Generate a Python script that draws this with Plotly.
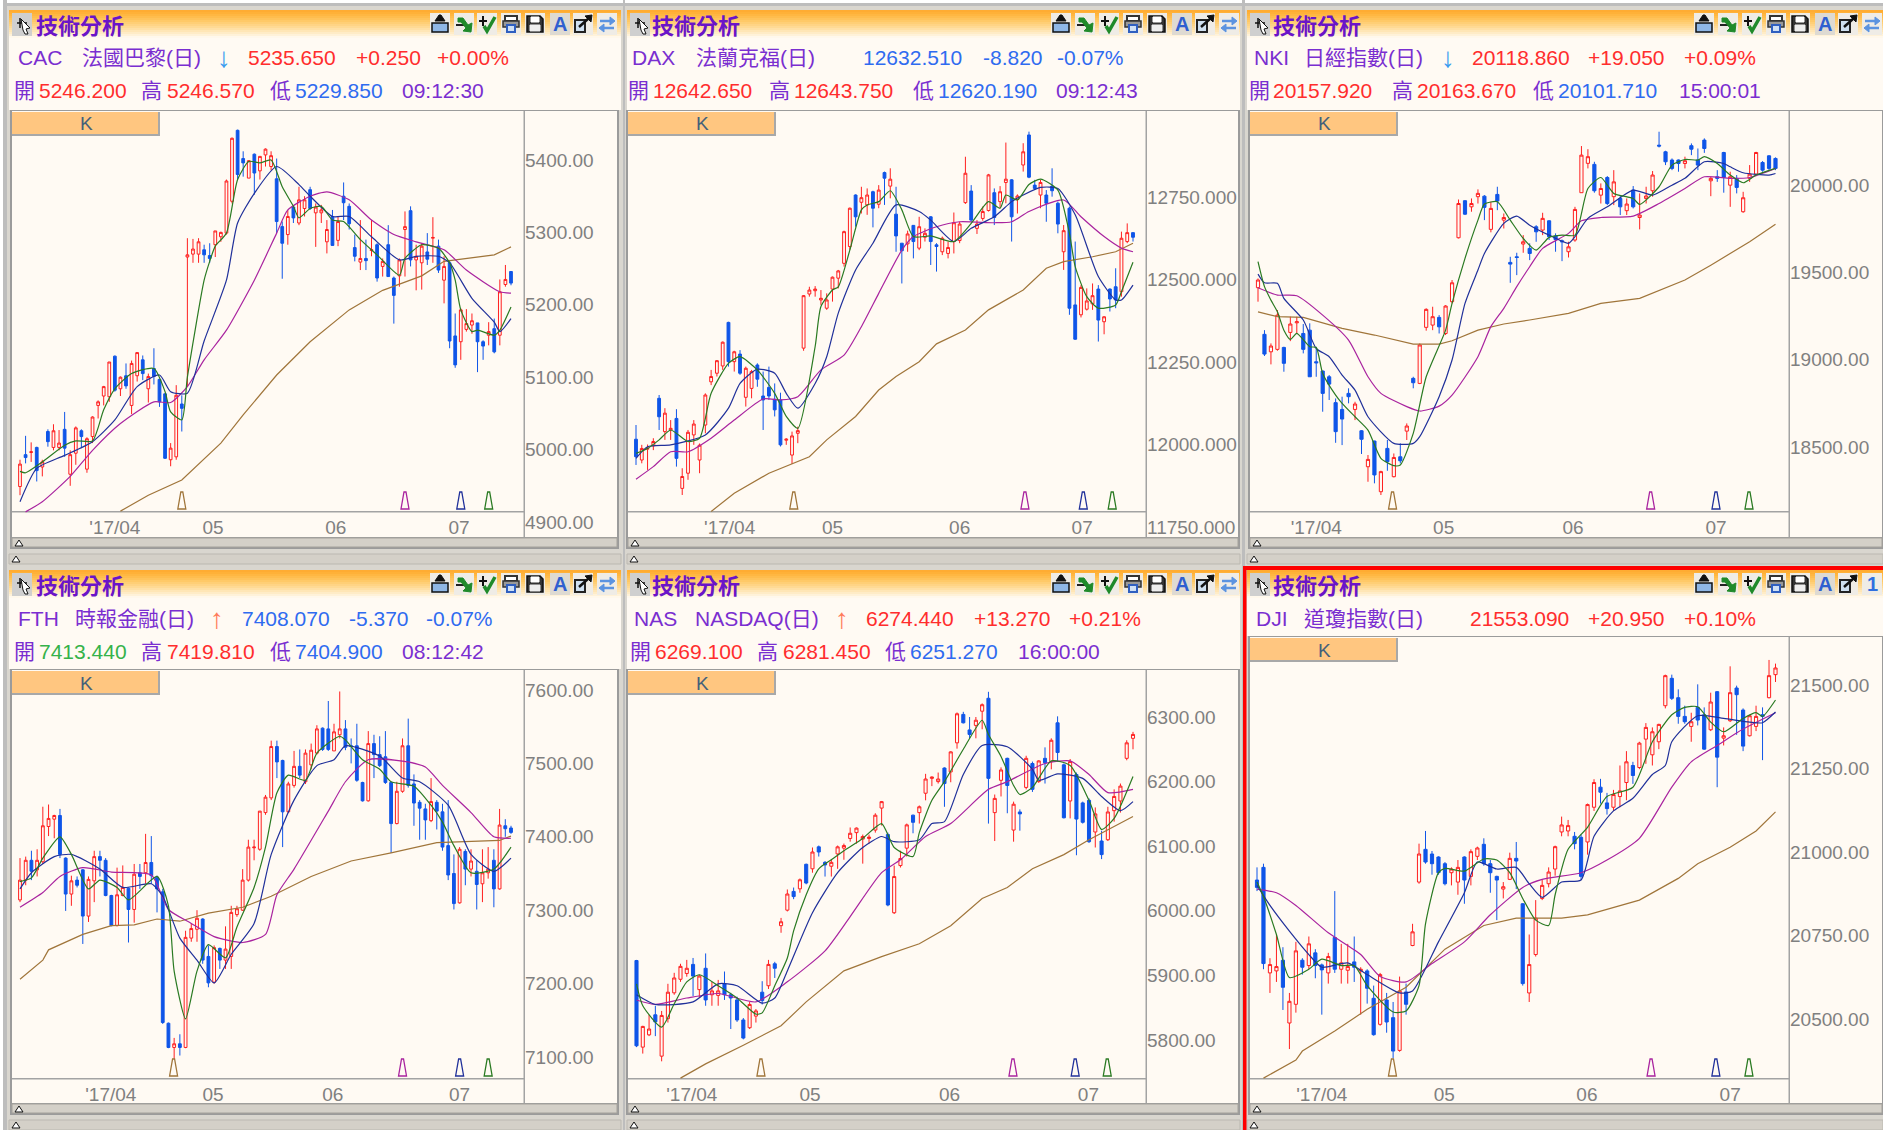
import plotly.graph_objects as go

W, H = 1883, 1130

# ---------- text ----------
title_text = "技術分析"
month_labels = ["'17/04", "05", "06", "07"]

# ---------- CAC ----------
cac_open = [4949,4993,4996,5003,4976,5025,5003,5003,5028,4966,4995,5026,4973,5018,5061,5074,5073,5129,5084,5102,5061,5102,5124,5084,5112,5097,5077,4986,4990,5063,5266,5270,5270,5276,5268,5283,5294,5299,5343,5441,5402,5375,5408,5385,5407,5391,5374,5308,5297,5335,5313,5333,5359,5327,5327,5287,5322,5289,5350,5336,5279,5259,5264,5275,5283,5253,5283,5237,5240,5304,5330,5262,5258,5273,5292,5281,5234,5258,5157,5149,5166,5172,5175,5149,5158,5167,5158,5228,5246]
cac_close = [4980,4989,4997,4971,4983,5011,5026,5009,5002,4993,5030,5018,5015,5045,5066,5087,5121,5082,5100,5088,5119,5134,5105,5101,5101,5066,4988,5002,5075,5057,5269,5277,5287,5269,5264,5302,5300,5371,5430,5380,5396,5399,5382,5405,5415,5406,5315,5285,5322,5320,5345,5345,5333,5335,5331,5304,5282,5315,5341,5312,5267,5264,5261,5276,5237,5260,5239,5213,5262,5308,5262,5267,5281,5263,5293,5248,5253,5150,5117,5193,5174,5178,5149,5143,5163,5135,5218,5235,5230]
cac_high = [4986,5019,5010,5004,4986,5028,5035,5027,5052,4999,5032,5028,5017,5046,5068,5088,5121,5130,5101,5119,5123,5134,5130,5105,5140,5098,5078,5009,5089,5075,5292,5291,5292,5283,5285,5302,5301,5373,5431,5442,5412,5400,5409,5405,5416,5412,5402,5315,5331,5336,5363,5350,5363,5340,5338,5317,5331,5322,5369,5340,5297,5317,5290,5317,5285,5264,5310,5239,5264,5329,5336,5283,5285,5299,5321,5290,5267,5262,5188,5195,5194,5188,5175,5151,5176,5181,5235,5255,5246]
cac_low = [4937,4981,4983,4956,4963,5004,4999,4999,4990,4950,4979,5002,4968,5009,5043,5061,5066,5080,5074,5084,5049,5094,5096,5065,5090,5059,4987,4977,4986,5025,5087,5258,5258,5258,5258,5266,5287,5297,5340,5373,5377,5375,5352,5373,5391,5386,5299,5236,5283,5313,5310,5322,5331,5280,5313,5271,5282,5281,5317,5304,5260,5248,5248,5267,5232,5239,5239,5174,5225,5239,5253,5220,5221,5255,5258,5244,5202,5140,5113,5124,5163,5160,5107,5124,5144,5133,5144,5225,5227]
cac_ma5_i = [0,1,4,8,10,13,15,17,20,24,26,27,29,30,33,34,35,37,39,41,43,45,47,49,50,52,54,56,58,61,64,68,69,72,75,77,78,79,81,82,85,86,88]
cac_ma5 = [4970,4968,4983,5006,5012,5012,5055,5084,5105,5112,5080,5052,5041,5100,5234,5260,5281,5299,5373,5398,5396,5400,5363,5336,5320,5333,5336,5317,5315,5290,5269,5241,5264,5283,5278,5258,5234,5193,5163,5165,5158,5165,5197]
cac_ma10_i = [0,3,8,13,17,21,25,27,30,33,37,39,42,46,50,52,56,59,63,68,71,75,77,81,85,86,88]
cac_ma10 = [4928,4974,4992,5011,5041,5087,5103,5080,5078,5150,5234,5313,5354,5391,5366,5350,5322,5322,5294,5262,5267,5267,5258,5209,5176,5163,5181]
cac_ma20_i = [1,4,9,13,18,24,27,30,33,37,42,46,48,52,55,59,63,67,71,76,80,86,88]
cac_ma20 = [4914,4928,4963,4999,5036,5066,5065,5087,5124,5165,5234,5299,5331,5350,5356,5345,5317,5297,5287,5276,5248,5218,5216]
cac_ma60_i = [18,23,29,36,40,46,52,59,65,69,72,76,83,85,88]
cac_ma60 = [4915,4937,4958,5009,5048,5103,5149,5193,5220,5232,5240,5260,5267,5269,5280]
cac_ticks = [5400,5300,5200,5100,5000,4900]
cac_tick_text = ["5400.00","5300.00","5200.00","5100.00","5000.00","4900.00"]
cac_month_i = [17,34.6,56.6,78.7]
cac_flag_i = [29,69,79,84]

# ---------- DAX ----------
dax_open = [12016,11953,11986,11996,12140,12039,12044,12079,11867,11913,12029,11953,12059,12190,12216,12238,12370,12251,12274,12143,12170,12241,12147,12173,12137,12135,12013,11968,12034,12292,12456,12466,12438,12413,12471,12504,12549,12600,12756,12734,12726,12766,12728,12824,12783,12698,12610,12608,12664,12595,12628,12690,12605,12584,12579,12615,12618,12733,12768,12655,12685,12709,12763,12736,12794,12802,12743,12847,12938,12786,12756,12756,12783,12731,12584,12716,12423,12393,12410,12426,12471,12372,12471,12478,12463,12615,12642]
dax_close = [11963,11988,11988,12009,12084,12095,12049,11958,11903,12037,12062,11998,12150,12206,12254,12310,12251,12281,12216,12231,12221,12198,12135,12147,12105,11999,12016,12026,12042,12451,12468,12471,12443,12438,12507,12526,12645,12716,12690,12748,12756,12716,12771,12807,12804,12632,12587,12638,12615,12660,12640,12615,12600,12625,12597,12672,12668,12822,12680,12668,12706,12817,12688,12766,12804,12690,12753,12887,12810,12776,12794,12731,12769,12668,12648,12413,12319,12476,12435,12451,12377,12387,12441,12438,12625,12642,12628]
dax_high = [12059,11999,12000,12019,12150,12110,12074,12107,11928,12044,12074,12003,12155,12226,12256,12312,12372,12284,12286,12236,12226,12246,12221,12236,12185,12157,12019,12039,12054,12453,12478,12480,12468,12458,12509,12529,12648,12718,12758,12781,12776,12769,12786,12827,12837,12781,12610,12648,12665,12690,12655,12692,12610,12630,12615,12703,12675,12872,12786,12680,12721,12820,12776,12783,12915,12804,12758,12913,12948,12802,12802,12771,12837,12736,12665,12721,12615,12483,12473,12488,12483,12389,12473,12534,12645,12670,12642]
dax_low = [11938,11943,11923,11983,12044,12014,12014,11933,11847,11893,11999,11913,12034,12180,12206,12226,12236,12221,12211,12115,12140,12175,12044,12135,12085,11994,11999,11941,12004,12284,12448,12448,12423,12408,12433,12473,12539,12590,12660,12700,12696,12658,12716,12726,12746,12584,12488,12584,12564,12589,12615,12544,12524,12574,12564,12579,12610,12729,12675,12638,12678,12706,12665,12716,12731,12615,12700,12827,12807,12771,12716,12675,12751,12640,12529,12393,12317,12385,12406,12408,12312,12334,12403,12413,12448,12610,12615]
dax_ma5_i = [0,2,4,6,9,11,13,16,18,21,24,26,28,31,32,34,35,37,39,40,42,44,46,48,51,55,58,61,63,64,66,68,70,73,75,76,78,80,83,84,86]
dax_ma5 = [11973,11988,12014,12044,12009,12019,12155,12246,12266,12226,12155,12085,12049,12297,12418,12468,12478,12589,12711,12726,12736,12769,12711,12630,12632,12615,12670,12736,12716,12756,12741,12788,12804,12771,12640,12539,12448,12413,12423,12463,12552]
dax_ma10_i = [0,2,6,12,16,18,21,24,26,28,31,33,35,38,41,45,49,51,55,58,62,65,67,70,73,76,80,83,84,86]
dax_ma10 = [11958,11993,11999,12029,12110,12185,12228,12216,12155,12110,12185,12266,12398,12529,12610,12726,12706,12680,12615,12655,12690,12736,12756,12779,12776,12696,12509,12438,12438,12483]
dax_ma20_i = [0,3,6,9,13,17,22,25,28,32,36,39,42,46,48,52,56,62,65,68,74,77,81,84,86]
dax_ma20 = [11895,11933,11978,11978,12019,12074,12138,12135,12145,12226,12271,12357,12458,12589,12630,12660,12675,12672,12675,12706,12741,12690,12630,12595,12584]
dax_ma60_i = [13,17,23,30,33,38,42,45,49,52,57,61,67,71,74,79,83,86]
dax_ma60 = [11797,11852,11913,11963,12014,12085,12165,12206,12251,12305,12347,12408,12468,12534,12554,12569,12584,12610]
dax_ticks = [12750,12500,12250,12000,11750]
dax_tick_text = ["12750.000","12500.000","12250.000","12000.000","11750.000"]
dax_month_i = [16.2,34,56,77.2]
dax_flag_i = [27.3,67.3,77.4,82.4]

# ---------- NKI ----------
nki_open = [19412,19145,19045,19059,19070,19156,19211,19150,19169,18988,18935,18902,18754,18715,18807,18715,18593,18387,18534,18244,18492,18330,18444,18591,18893,18864,19185,19198,19242,19150,19332,19698,19910,19875,19933,19936,19746,19946,19799,19557,19589,19662,19637,19761,19742,19795,19708,19681,19618,19685,19956,20124,20118,19942,20043,19933,19923,19853,19971,19814,19923,19967,20228,20190,20143,20143,20123,20225,20143,20257,20024,20047,20186,19999,20038,19847,20038,20062,20129,20167,20152]
nki_close = [19456,19032,19078,19255,18979,19204,19217,19059,18902,18982,18807,18860,18588,18660,18788,18746,18544,18429,18340,18359,18416,18440,18421,18620,18868,19084,19288,19246,19188,19307,19440,19894,19833,19894,19952,19872,19866,19908,19814,19547,19585,19675,19608,19732,19809,19704,19688,19675,19646,19860,20171,20162,19967,19980,19894,20018,19875,19891,19875,19828,19937,20057,20223,20133,20095,20123,20139,20205,20114,20209,20038,20038,20043,20047,19986,19927,20062,20186,20085,20095,20095]
nki_high = [19465,19169,19093,19284,19074,19246,19246,19204,19208,19074,18937,18912,18778,18788,18836,18759,18597,18454,18536,18364,18540,18463,18521,18635,18902,19093,19294,19303,19255,19312,19456,19917,19913,19923,19975,19942,19904,19990,19837,19589,19612,19713,19666,19770,19841,19799,19723,19688,19675,19875,20223,20205,20133,20009,20051,20085,19942,19923,19994,19952,19990,20080,20305,20196,20152,20146,20162,20238,20209,20267,20047,20085,20190,20076,20057,19961,20114,20190,20137,20171,20158]
nki_low = [19332,19021,18973,19051,18931,19106,19150,19036,18902,18902,18702,18769,18524,18511,18750,18654,18460,18301,18292,18225,18364,18326,18406,18540,18836,18860,19166,19169,19150,19141,19322,19694,19828,19847,19894,19799,19729,19856,19751,19440,19484,19612,19570,19675,19713,19685,19618,19564,19585,19675,19956,20095,19956,19894,19885,19885,19828,19828,19866,19746,19894,19933,20215,20114,20085,20076,20095,20171,20085,20184,19936,20018,19956,19875,19952,19841,20018,20057,20076,20085,20085]
nki_ma5_i = [0,1,2,3,4,5,6,8,9,10,12,13,15,17,19,21,22,24,26,29,30,32,34,35,37,39,41,43,45,47,49,51,53,55,58,59,62,64,66,68,69,71,73,75,77,80]
nki_ma5 = [19561,19418,19341,19274,19169,19116,19150,19074,19070,18921,18797,18750,18673,18597,18435,18393,18397,18578,18902,19169,19322,19580,19799,19891,19904,19799,19694,19627,19700,19713,19713,19980,20043,19952,19923,19889,19990,20114,20146,20143,20162,20123,20057,20013,20057,20095]
nki_ma10_i = [0,1,3,4,7,9,11,13,15,17,21,24,25,28,30,32,34,35,38,40,42,45,48,49,51,54,58,61,64,66,69,72,73,75,79,80]
nki_ma10 = [19490,19440,19437,19351,19227,19064,19017,18912,18826,18673,18521,18521,18559,18788,18998,19322,19513,19608,19780,19822,19770,19713,19666,19704,19809,19875,19971,19942,19999,20038,20133,20123,20104,20070,20057,20066]
nki_ma20_i = [0,3,6,10,14,17,19,23,25,28,30,34,36,38,40,42,44,48,50,53,58,62,66,69,73,76,80]
nki_ma20 = [19412,19370,19366,19255,19112,18902,18807,18731,18706,18734,18797,19017,19189,19294,19418,19532,19637,19723,19795,19814,19822,19894,19980,20047,20038,20043,20095]
nki_ma60_i = [0,3,7,13,18,24,28,30,34,38,42,48,53,59,66,70,76,80]
nki_ma60 = [19274,19246,19242,19179,19141,19089,19089,19108,19169,19204,19227,19265,19322,19351,19456,19541,19675,19776]
nki_ticks = [20000,19500,19000,18500]
nki_tick_text = ["20000.00","19500.00","19000.00","18500.00"]
nki_month_i = [9,28.7,48.7,70.8]
nki_flag_i = [20.8,60.7,70.8,75.9]

# ---------- FTH ----------
fth_open = [7314,7341,7368,7355,7366,7414,7424,7429,7371,7322,7341,7355,7292,7340,7373,7368,7320,7279,7320,7330,7301,7351,7351,7365,7345,7325,7146,7113,7118,7113,7262,7274,7288,7237,7202,7248,7232,7237,7294,7300,7341,7385,7383,7433,7453,7523,7504,7434,7470,7496,7475,7498,7514,7548,7547,7517,7539,7547,7524,7524,7474,7449,7527,7512,7509,7474,7418,7462,7524,7472,7447,7438,7422,7447,7434,7388,7350,7310,7380,7356,7353,7336,7351,7368,7329,7415,7412]
fth_close = [7341,7368,7353,7368,7415,7425,7429,7376,7322,7340,7334,7292,7342,7373,7368,7320,7279,7321,7331,7301,7349,7346,7365,7347,7329,7147,7113,7118,7113,7263,7275,7289,7232,7201,7249,7232,7247,7297,7302,7341,7386,7386,7435,7454,7523,7502,7434,7472,7496,7484,7514,7518,7547,7519,7519,7543,7547,7522,7523,7477,7449,7527,7512,7497,7474,7418,7462,7524,7470,7446,7439,7423,7448,7435,7386,7348,7309,7383,7356,7367,7335,7351,7356,7329,7416,7411,7406]
fth_high = [7371,7373,7381,7383,7441,7444,7430,7438,7372,7347,7346,7356,7346,7381,7381,7371,7321,7358,7361,7331,7363,7363,7404,7401,7347,7329,7147,7126,7131,7272,7282,7300,7289,7252,7252,7249,7278,7306,7306,7356,7396,7396,7435,7457,7531,7531,7505,7475,7517,7519,7519,7527,7552,7549,7585,7554,7598,7559,7534,7554,7475,7544,7539,7537,7544,7475,7475,7534,7561,7485,7450,7445,7480,7450,7445,7450,7376,7386,7383,7383,7368,7383,7386,7383,7438,7424,7415]
fth_low = [7311,7334,7341,7346,7363,7401,7398,7371,7299,7306,7331,7254,7284,7311,7346,7319,7278,7278,7319,7256,7283,7329,7336,7336,7297,7145,7112,7096,7102,7112,7257,7257,7227,7195,7200,7220,7220,7220,7291,7299,7339,7368,7381,7430,7450,7480,7386,7433,7467,7480,7472,7492,7512,7517,7517,7517,7534,7518,7500,7475,7448,7448,7480,7495,7472,7378,7417,7460,7467,7415,7396,7396,7420,7410,7381,7341,7301,7309,7334,7346,7301,7311,7343,7304,7328,7400,7404]
fth_ma5_i = [0,2,4,7,9,12,14,17,19,24,26,27,29,31,33,36,38,41,43,45,47,50,52,56,57,60,63,65,69,72,74,76,79,83,86]
fth_ma5 = [7339,7344,7371,7400,7376,7329,7341,7331,7314,7346,7306,7217,7152,7217,7253,7235,7277,7331,7386,7460,7484,7477,7514,7537,7532,7505,7492,7475,7469,7443,7420,7388,7351,7356,7386]
fth_ma10_i = [0,2,6,9,14,18,23,25,28,31,34,37,41,44,48,52,55,57,63,67,70,75,79,83,86]
fth_ma10 = [7329,7351,7373,7376,7356,7331,7336,7319,7262,7232,7201,7240,7282,7376,7450,7497,7505,7524,7510,7480,7475,7443,7376,7353,7371]
fth_ma20_i = [0,4,7,11,16,23,26,30,34,39,43,45,48,54,57,61,67,71,74,79,83,86]
fth_ma20 = [7304,7324,7346,7358,7352,7348,7301,7282,7264,7256,7267,7321,7356,7435,7475,7505,7503,7495,7470,7433,7400,7398]
fth_ma60_i = [0,4,5,11,16,20,24,28,33,39,44,51,58,65,73,79,84,86]
fth_ma60 = [7206,7232,7246,7267,7279,7280,7288,7285,7296,7304,7319,7346,7367,7378,7392,7394,7395,7401]
fth_ticks = [7600,7500,7400,7300,7200,7100]
fth_tick_text = ["7600.00","7500.00","7400.00","7300.00","7200.00","7100.00"]
fth_month_i = [15.9,33.8,54.8,77]
fth_flag_i = [26.9,67,77,82]

# ---------- NAS ----------
nas_open = [5923,5789,5808,5839,5775,5833,5873,5894,5903,5917,5878,5911,5870,5869,5887,5870,5862,5831,5819,5837,5874,5884,5918,5977,6001,6030,6034,6072,6065,6099,6075,6069,6088,6097,6112,6121,6111,6112,6125,6159,6118,5997,6070,6097,6148,6152,6182,6205,6200,6221,6215,6260,6304,6280,6287,6309,6329,6152,6202,6236,6125,6153,6191,6228,6200,6236,6231,6291,6226,6170,6211,6167,6171,6122,6108,6110,6155,6170,6236,6267]
nas_close = [5791,5821,5817,5828,5838,5874,5896,5914,5911,5899,5899,5862,5876,5876,5870,5865,5831,5803,5855,5845,5861,5917,5911,5983,6026,6022,6048,6043,6091,6091,6071,6075,6099,6101,6120,6128,6115,6114,6148,6169,6009,6053,6081,6133,6137,6161,6204,6207,6204,6197,6246,6305,6291,6273,6295,6319,6205,6174,6218,6194,6165,6150,6236,6188,6232,6229,6264,6245,6144,6231,6142,6137,6107,6150,6087,6153,6177,6193,6260,6273]
nas_high = [5924,5822,5839,5853,5845,5887,5904,5918,5924,5927,5901,5934,5890,5893,5906,5873,5867,5834,5859,5848,5891,5924,5921,5989,6033,6036,6050,6073,6098,6101,6077,6079,6101,6104,6129,6129,6118,6118,6151,6170,6121,6070,6093,6135,6149,6163,6212,6208,6214,6222,6247,6307,6308,6300,6300,6321,6339,6180,6222,6237,6169,6157,6240,6231,6233,6253,6267,6301,6228,6235,6214,6169,6174,6160,6124,6161,6188,6197,6264,6277]
nas_low = [5789,5779,5806,5806,5767,5827,5870,5890,5898,5868,5865,5853,5853,5853,5862,5817,5828,5801,5817,5827,5855,5879,5896,5966,5999,6018,6028,6041,6059,6084,6053,6053,6065,6079,6107,6104,6073,6104,6121,6132,6007,5995,6067,6084,6120,6135,6171,6193,6197,6161,6199,6251,6290,6267,6267,6281,6135,6108,6177,6151,6107,6124,6188,6184,6198,6197,6219,6231,6143,6143,6086,6135,6105,6098,6080,6108,6138,6152,6233,6250]
nas_ma5_i = [0,1,4,6,8,10,13,16,19,20,22,24,25,27,29,31,33,36,39,41,44,45,47,49,52,55,56,58,60,61,63,66,69,72,74,76,79]
nas_ma5 = [5887,5853,5820,5856,5890,5901,5884,5865,5840,5842,5884,5927,5969,6025,6065,6079,6093,6112,6135,6098,6084,6121,6171,6200,6250,6295,6273,6239,6194,6180,6191,6232,6225,6171,6126,6143,6208]
nas_ma10_i = [0,3,9,13,16,20,22,24,28,32,36,39,41,45,47,49,52,55,59,63,64,67,71,74,77,79]
nas_ma10 = [5870,5855,5859,5887,5884,5857,5865,5907,5997,6059,6098,6115,6107,6110,6135,6138,6211,6256,6254,6219,6202,6212,6205,6177,6155,6169]
nas_ma20_i = [0,3,8,13,19,24,30,34,39,42,46,50,56,59,65,69,72,75,79]
nas_ma20 = [5862,5855,5865,5872,5859,5890,5938,5991,6059,6079,6115,6135,6188,6200,6228,6232,6211,6183,6188]
nas_ma60_i = [7,11,17,23,27,33,39,45,50,55,59,63,68,72,79]
nas_ma60 = [5741,5763,5792,5822,5859,5907,5929,5949,5977,6019,6036,6065,6087,6110,6146]
nas_ticks = [6300,6200,6100,6000,5900,5800]
nas_tick_text = ["6300.00","6200.00","6100.00","6000.00","5900.00","5800.00"]
nas_month_i = [8.8,27.6,49.8,71.9]
nas_flag_i = [19.8,59.9,69.8,74.9]

# ---------- DJI ----------
dji_open = [20916,20954,20638,20644,20676,20488,20544,20676,20660,20698,20662,20638,20744,20649,20646,20671,20644,20644,20562,20484,20557,20504,20406,20581,20720,20910,21008,20994,20985,20965,20938,20910,20985,20927,20987,21023,20965,20927,20889,20918,20981,20845,20578,20693,20861,20905,20949,21060,21063,21047,21044,21030,21134,21194,21147,21134,21166,21208,21259,21253,21338,21291,21330,21438,21520,21462,21406,21376,21433,21411,21366,21480,21341,21393,21491,21425,21348,21376,21411,21462,21531]
dji_close = [20894,20666,20663,20657,20595,20553,20704,20655,20725,20660,20647,20687,20649,20668,20657,20655,20649,20592,20453,20633,20491,20404,20584,20544,20761,20994,20970,20965,20938,20905,20949,20954,20916,21001,21012,20965,20938,20916,20896,20981,20973,20606,20663,20802,20900,20940,21016,21081,21079,21025,20927,21142,21208,21179,21130,21172,21183,21270,21229,21326,21373,21360,21382,21528,21460,21406,21390,21390,21395,21308,21449,21284,21348,21477,21471,21317,21408,21406,21406,21528,21551]
dji_high = [20954,20965,20682,20753,20715,20578,20731,20682,20747,20709,20666,20698,20883,20725,20725,20747,20655,20649,20600,20638,20578,20551,20627,20606,20785,21025,21063,21003,20987,20970,20954,20976,20987,21008,21016,21041,20976,20929,20910,20998,21030,20847,20753,20856,20916,20954,21019,21106,21096,21060,21052,21145,21218,21219,21177,21186,21259,21302,21270,21330,21386,21373,21384,21531,21531,21487,21438,21417,21502,21433,21477,21482,21373,21556,21498,21430,21411,21438,21433,21575,21564]
dji_low = [20883,20649,20578,20611,20527,20410,20519,20633,20649,20622,20513,20606,20638,20606,20606,20611,20513,20546,20450,20480,20459,20382,20402,20513,20718,20905,20965,20932,20932,20900,20900,20872,20845,20900,20976,20959,20878,20796,20861,20916,20889,20600,20551,20687,20856,20894,20929,21047,21047,21008,20916,20992,21123,21145,21112,21123,21134,21155,21204,21248,21264,21259,21308,21430,21455,21384,21384,21330,21379,21306,21362,21194,21319,21389,21351,21302,21346,21362,21275,21460,21509]
dji_ma5_i = [0,1,3,5,8,10,13,15,17,21,23,25,26,28,29,32,35,37,39,41,43,45,46,48,51,54,58,61,64,66,68,70,72,75,77,78,80]
dji_ma5 = [20910,20867,20753,20624,20649,20679,20660,20660,20600,20521,20524,20600,20785,20938,20951,20943,20979,20976,20938,20861,20796,20780,20872,21008,21074,21166,21194,21330,21411,21433,21435,21389,21360,21400,21417,21406,21455]
dji_ma10_i = [0,2,5,8,10,14,17,22,24,28,32,34,37,40,42,44,47,50,52,55,58,61,63,64,68,72,76,78,80]
dji_ma10 = [20900,20840,20763,20693,20655,20668,20633,20578,20584,20731,20878,20970,20949,20954,20905,20864,20910,20916,21047,21123,21161,21232,21259,21330,21408,21400,21389,21387,21419]
dji_ma20_i = [0,3,6,11,16,19,23,27,32,36,41,44,50,54,59,64,67,71,75,80]
dji_ma20 = [20889,20878,20840,20758,20693,20627,20611,20666,20731,20812,20894,20918,20938,20976,21041,21194,21270,21319,21368,21417]
dji_ma60_i = [1,6,7,12,17,23,29,35,40,47,51,59,65,68,73,77,80]
dji_ma60 = [20323,20377,20404,20464,20529,20595,20709,20780,20802,20802,20812,20856,20921,20965,21014,21063,21120]
dji_ticks = [21500,21250,21000,20750,20500]
dji_tick_text = ["21500.00","21250.00","21000.00","20750.00","20500.00"]
dji_month_i = [10,28.9,50.9,73]
dji_flag_i = [20.9,60.8,70.8,75.9]

# ---------- colours ----------
RED, BLUE, BG = "#ff1f1f", "#0f55e8", "#fffaf3"
PURPLE, GREENT, BLUET, REDT = "#7a2ed0", "#35b24a", "#2f6bf0", "#ff2d2d"
MA_COL = ["#2a7a22", "#20309a", "#a9239f", "#a0753a"]
GREY_T, FRAME, BAR = "#808080", "#9b9b9b", "#d4d0c8"
ARROWS = ("↓","↑")

# ---------- panels: pixel layout of the windows ----------
def px(v): return v / W
def py(v): return 1 - v / H

panels = [
 dict(o=cac_open,c=cac_close,h=cac_high,l=cac_low,ma=[(cac_ma5_i,cac_ma5),(cac_ma10_i,cac_ma10),(cac_ma20_i,cac_ma20),(cac_ma60_i,cac_ma60)],
      ticks=cac_ticks,tt=cac_tick_text,mi=cac_month_i,fi=cac_flag_i,
      win=(9,621),plot=(12,524,618),cx=(20,511),cal=(5400,160,4900,522),row=0,tbar=[440,464,487,511,535,560,583,607],title=36,
      l1=[(18,"CAC",PURPLE),(82,"法國巴黎(日)",PURPLE),(224,"↓","#3a9cf0"),(248,"5235.650",REDT),(356,"+0.250",REDT),(437,"+0.00%",REDT)],
      l2=[(14,"開",PURPLE),(39,"5246.200",REDT),(141,"高",PURPLE),(167,"5246.570",REDT),(270,"低",PURPLE),(295,"5229.850",BLUET),(402,"09:12:30",PURPLE)]),
 dict(o=dax_open,c=dax_close,h=dax_high,l=dax_low,ma=[(dax_ma5_i,dax_ma5),(dax_ma10_i,dax_ma10),(dax_ma20_i,dax_ma20),(dax_ma60_i,dax_ma60)],
      ticks=dax_ticks,tt=dax_tick_text,mi=dax_month_i,fi=dax_flag_i,
      win=(627,1240),plot=(628,1146,1239),cx=(636,1133),cal=(12750,197,11750,527),row=0,tbar=[1061,1085,1109,1133,1157,1182,1205,1229],title=652,
      l1=[(632,"DAX",PURPLE),(696,"法蘭克福(日)",PURPLE),(863,"12632.510",BLUET),(983,"-8.820",BLUET),(1057,"-0.07%",BLUET)],
      l2=[(628,"開",PURPLE),(653,"12642.650",REDT),(769,"高",PURPLE),(794,"12643.750",REDT),(913,"低",PURPLE),(938,"12620.190",BLUET),(1056,"09:12:43",PURPLE)]),
 dict(o=nki_open,c=nki_close,h=nki_high,l=nki_low,ma=[(nki_ma5_i,nki_ma5),(nki_ma10_i,nki_ma10),(nki_ma20_i,nki_ma20),(nki_ma60_i,nki_ma60)],
      ticks=nki_ticks,tt=nki_tick_text,mi=nki_month_i,fi=nki_flag_i,
      win=(1247,1883),plot=(1250,1789,1883),cx=(1258,1775.5),cal=(20000,185,18500,447),row=0,tbar=[1704,1728,1752,1776,1800,1825,1848,1872],title=1273,
      l1=[(1254,"NKI",PURPLE),(1304,"日經指數(日)",PURPLE),(1448,"↓","#3a9cf0"),(1472,"20118.860",REDT),(1588,"+19.050",REDT),(1684,"+0.09%",REDT)],
      l2=[(1249,"開",PURPLE),(1273,"20157.920",REDT),(1392,"高",PURPLE),(1417,"20163.670",REDT),(1533,"低",PURPLE),(1558,"20101.710",BLUET),(1679,"15:00:01",PURPLE)]),
 dict(o=fth_open,c=fth_close,h=fth_high,l=fth_low,ma=[(fth_ma5_i,fth_ma5),(fth_ma10_i,fth_ma10),(fth_ma20_i,fth_ma20),(fth_ma60_i,fth_ma60)],
      ticks=fth_ticks,tt=fth_tick_text,mi=fth_month_i,fi=fth_flag_i,
      win=(9,621),plot=(12,524,618),cx=(20,511),cal=(7600,690,7100,1057),row=1,tbar=[440,464,487,511,535,560,583,607],title=36,
      l1=[(18,"FTH",PURPLE),(75,"時報金融(日)",PURPLE),(217,"↑","#ff7a5a"),(242,"7408.070",BLUET),(349,"-5.370",BLUET),(426,"-0.07%",BLUET)],
      l2=[(14,"開",PURPLE),(39,"7413.440",GREENT),(141,"高",PURPLE),(167,"7419.810",REDT),(270,"低",PURPLE),(295,"7404.900",BLUET),(402,"08:12:42",PURPLE)]),
 dict(o=nas_open,c=nas_close,h=nas_high,l=nas_low,ma=[(nas_ma5_i,nas_ma5),(nas_ma10_i,nas_ma10),(nas_ma20_i,nas_ma20),(nas_ma60_i,nas_ma60)],
      ticks=nas_ticks,tt=nas_tick_text,mi=nas_month_i,fi=nas_flag_i,
      win=(627,1240),plot=(628,1146,1239),cx=(636.5,1133),cal=(6300,717,5800,1040),row=1,tbar=[1061,1085,1109,1133,1157,1182,1205,1229],title=652,
      l1=[(634,"NAS",PURPLE),(695,"NASDAQ(日)",PURPLE),(842,"↑","#ff7a5a"),(866,"6274.440",REDT),(974,"+13.270",REDT),(1069,"+0.21%",REDT)],
      l2=[(630,"開",PURPLE),(655,"6269.100",REDT),(757,"高",PURPLE),(783,"6281.450",REDT),(885,"低",PURPLE),(910,"6251.270",BLUET),(1018,"16:00:00",PURPLE)]),
 dict(o=dji_open,c=dji_close,h=dji_high,l=dji_low,ma=[(dji_ma5_i,dji_ma5),(dji_ma10_i,dji_ma10),(dji_ma20_i,dji_ma20),(dji_ma60_i,dji_ma60)],
      ticks=dji_ticks,tt=dji_tick_text,mi=dji_month_i,fi=dji_flag_i,
      win=(1247,1883),plot=(1250,1789,1883),cx=(1257,1775.5),cal=(21500,685,20500,1019),row=1,tbar=[1704,1728,1752,1776,1800,1825,1848,1872],title=1273,
      l1=[(1256,"DJI",PURPLE),(1304,"道瓊指數(日)",PURPLE),(1470,"21553.090",REDT),(1588,"+20.950",REDT),(1684,"+0.10%",REDT)],
      l2=[]),
]

LATIN = "Liberation Sans, Noto Sans CJK TC"
CJK = "Noto Sans CJK TC, Liberation Sans"
shapes, anns = [], []
fig = go.Figure()

def rect(x0,y0,x1,y1,fill,line=None,lw=1,layer="below"):
    shapes.append(dict(type="rect",xref="paper",yref="paper",x0=px(x0),x1=px(x1),y0=py(y0),y1=py(y1),
                       fillcolor=fill,line=dict(color=line or fill,width=lw if line else 0),layer=layer))
def pth(pts,fill=None,line="#000",lw=1,close=True):
    d = "M " + " L ".join(f"{px(a):.5f} {py(b):.5f}" for a,b in pts) + (" Z" if close else "")
    shapes.append(dict(type="path",xref="paper",yref="paper",path=d,
                       fillcolor=fill or "rgba(0,0,0,0)",line=dict(color=line,width=lw),layer="above"))
def text(x,y,t,color,size=21,family=LATIN,bold=False,anchor="left"):
    if anchor=="left": x -= 1.5
    anns.append(dict(xref="paper",yref="paper",x=px(x),y=py(y),text=f"<b>{t}</b>" if bold else t,showarrow=False,
                     xanchor=anchor,yanchor="middle",font=dict(family=family,size=size,color=color),borderpad=0))

def icon(kind,cx,top,one=False):
    cy = top + 13
    rect(cx-10,cy-11,cx+10,cy+11,"#dedad2" if kind==5 else "#efece6")
    if kind==0:
        pth([(cx-5,cy-3),(cx+5,cy-3),(cx+1,cy-9),(cx-1,cy-9)],"#111","#111")
        pth([(cx-8,cy-1),(cx+8,cy-1),(cx+8,cy+8),(cx-8,cy+8)],"#8fb7e6","#111",1.5)
    elif kind==1:
        pth([(cx-8,cy+1),(cx+1,cy+1)],None,"#222",2,False)
        pth([(cx-6,cy-6),(cx-1,cy-6),(cx+4,cy+1),(cx+8,cy-1),(cx+7,cy+8),(cx-1,cy+7),(cx+2,cy+4),(cx-3,cy-2),(cx-6,cy-2)],"#1f8a2a","#1f8a2a")
    elif kind==2:
        pth([(cx-8,cy-3),(cx,cy-3)],None,"#111",2,False)
        pth([(cx-4,cy-8),(cx-4,cy+2)],None,"#111",2,False)
        pth([(cx-3,cy+2),(cx,cy+7),(cx+8,cy-7)],None,"#1f8a2a",3.5,False)
    elif kind==3:
        pth([(cx-6,cy-8),(cx+6,cy-8),(cx+6,cy-3),(cx-6,cy-3)],"#fff","#333",2)
        pth([(cx-8,cy-3),(cx+8,cy-3),(cx+8,cy+3),(cx-8,cy+3)],"#999","#333",1.5)
        pth([(cx-4,cy+1),(cx+4,cy+1),(cx+4,cy+8),(cx-4,cy+8)],"#cfe0f5","#2f5fc0",2)
    elif kind==4:
        pth([(cx-8,cy-8),(cx+5,cy-8),(cx+8,cy-5),(cx+8,cy+8),(cx-8,cy+8)],"#333","#111",1.5)
        pth([(cx-4,cy-7),(cx+4,cy-7),(cx+4,cy-2),(cx-4,cy-2)],"#fff","#fff")
        pth([(cx-5,cy+1),(cx+5,cy+1),(cx+5,cy+7),(cx-5,cy+7)],"#eee","#eee")
    elif kind==6:
        pth([(cx-8,cy-4),(cx+2,cy-4),(cx+2,cy+8),(cx-8,cy+8)],"#cfe0f0","#222",2)
        pth([(cx-4,cy+3),(cx+6,cy-6)],None,"#111",2.5,False)
        pth([(cx+2,cy-8),(cx+9,cy-9),(cx+8,cy-2)],"#111","#111")
    elif kind==7 and not one:
        pth([(cx-7,cy-3),(cx+4,cy-3)],None,"#5b93e0",2.5,False)
        pth([(cx+3,cy-7),(cx+8,cy-3),(cx+3,cy+1)],"#5b93e0","#5b93e0")
        pth([(cx+7,cy+4),(cx-4,cy+4)],None,"#5b93e0",2.5,False)
        pth([(cx-3,cy),(cx-8,cy+4),(cx-3,cy+8)],"#5b93e0","#5b93e0")

# page background
rect(0,0,W,H,"#d9d6cf")
rect(0,0,W,3,"#ffffff"); rect(0,3,W,6,"#bdbdbd"); rect(0,0,3,H,"#ffffff"); rect(3,0,7,H,"#bdbdbd")
rect(623,0,625,H,"#bdbdbd"); rect(1242,0,1245,H,"#bdbdbd")

for k,p in enumerate(panels):
    n = len(p["o"])
    assert len(p["c"])==n and len(p["h"])==n and len(p["l"])==n, (k,n,len(p["c"]),len(p["h"]),len(p["l"]))
    xa, ya = f"x{k+1}", f"y{k+1}"
    xl, xd, xr = p["plot"]
    wl, wr = p["win"]
    head = 10 if p["row"]==0 else 570
    frame_top = 110 if p["row"]==0 else (669 if k<5 else 636)
    main_bot = 512 if p["row"]==0 else 1079
    ax_bot = 537 if p["row"]==0 else 1103
    ptop = frame_top+1

    # window chrome
    rect(wl,head+28,wr,frame_top,BG)
    strips = 14
    for s in range(strips):
        f = s/(strips-1)
        col = f"rgb({int(255)},{int(172+(248-172)*f)},{int(50+(236-50)*f**1.3)})"
        rect(wl,head+s*2,wr,head+(s+1)*2,col)
    rect(xl-2,frame_top,xr+1,ax_bot+12,FRAME)
    rect(xl,ptop,xr-1,ax_bot,BG)
    rect(xl,ax_bot+1,xr-1,ax_bot+10,BAR,"#a5a29c",1)
    rect(wl,ax_bot+17,wr,ax_bot+27,BAR,"#bbb8b1",1)
    rect(xd-0.5,ptop,xd+1,ax_bot,"#a3a3a3")
    rect(xl,main_bot-1,xd,main_bot+0.5,"#a3a3a3")
    rect(xl,ptop+1,xl+148,ptop+25,"#a8a8a8")
    rect(xl,ptop+1,xl+146,ptop+23,"#ffc680")
    text(xl+74,ptop+13,"K","#44607a",19,anchor="center")
    for by,bx in ((ax_bot+6,xl+7),(ax_bot+22,wl+7)):
        pth([(bx-4,by+3),(bx+4,by+3),(bx,by-3)],"#ffffff","#111",1)

    # header
    cur = wl+3
    rect(cur,head+3,cur+20,head+26,"#cfcfcf")
    pth([(cur+5,head+13),(cur+15,head+13)],None,"#111",1.5,False)
    pth([(cur+8,head+8),(cur+8,head+18)],None,"#111",1.5,False)
    pth([(cur+9,head+9),(cur+18,head+18),(cur+14,head+19),(cur+16,head+24),(cur+13,head+24),(cur+11,head+20)],"#fff","#111",1)
    text(p["title"],head+14,title_text,"#6a14c8",22,CJK,True)
    for j,cx in enumerate(p["tbar"]):
        one = (k==5 and j==7)
        icon(j,cx,head+1,one)
        if j==5: text(cx,head+14,"A","#2f5fd0",20,LATIN,True,"center")
        if one: text(cx,head+14,"1","#2f6fe0",20,LATIN,True,"center")

    # info lines
    y1 = 57 if p["row"]==0 else 618
    y2 = 91 if p["row"]==0 else 651
    for x,t,c in p["l1"]:
        if t in ARROWS: text(x,y1,t,c,28,LATIN,False,"center")
        else: text(x,y1,t,c)
    for x,t,c in p["l2"]: text(x,y2,t,c)

    # scales
    v0,p0,v1,p1 = p["cal"]
    sc = (v0-v1)/(p1-p0)
    yr = [v0-(ax_bot-p0)*sc, v0+(p0-ptop)*sc]
    x0,x1 = p["cx"]
    dx = (x1-x0)/(n-1)
    xrng = [(xl-x0)/dx,(xd-x0)/dx]

    fig.add_trace(go.Candlestick(x=list(range(n)),open=p["o"],high=p["h"],low=p["l"],close=p["c"],xaxis=xa,yaxis=ya,
        whiskerwidth=0,showlegend=False,hoverinfo="skip",
        increasing=dict(line=dict(color=RED,width=1),fillcolor=BG),
        decreasing=dict(line=dict(color=BLUE,width=1),fillcolor=BLUE)))
    for order in [3,2,1,0]:
        mx,my = p["ma"][order]
        assert len(mx)==len(my),(k,order,len(mx),len(my))
        shape = dict(shape="linear") if order==3 else dict(shape="spline",smoothing=0.6)
        fig.add_trace(go.Scatter(x=mx,y=my,xaxis=xa,yaxis=ya,mode="lines",showlegend=False,hoverinfo="skip",
            line=dict(color=MA_COL[order],width=1.2,**shape)))

    suffix = "" if k==0 else str(k+1)
    fig.layout["xaxis"+suffix] = dict(domain=[px(xl),px(xd)],range=xrng,type="linear",anchor="free",position=py(main_bot+2),showgrid=False,zeroline=False,
        showline=False,rangeslider=dict(visible=False),tickmode="array",tickvals=p["mi"],ticktext=month_labels,ticks="",
        tickfont=dict(family=LATIN,size=19,color=GREY_T),fixedrange=True)
    fig.layout["yaxis"+suffix] = dict(domain=[py(ax_bot),py(ptop)],range=yr,type="linear",anchor=xa,side="right",showgrid=False,zeroline=False,
        showline=False,tickmode="array",tickvals=p["ticks"],ticktext=p["tt"],ticks="",
        tickfont=dict(family=LATIN,size=19,color=GREY_T),fixedrange=True)

    # date flags
    for fx,col in zip(p["fi"],[MA_COL[3],MA_COL[2],MA_COL[1],MA_COL[0]]):
        shapes.append(dict(type="path",xref=xa,yref="paper",xsizemode="pixel",ysizemode="pixel",xanchor=fx,yanchor=py(main_bot-3),
                           path="M -4 0 L -1 17 L 1 17 L 4 0 Z",line=dict(color=col,width=1.3),fillcolor=BG,layer="above"))

# selected window border
rect(1243,566,W,570,"#ff0000",layer="above")
rect(1243,566,1246.5,H,"#ff0000",layer="above")

fig.update_layout(width=W,height=H,margin=dict(l=0,r=0,t=0,b=0,pad=0),autosize=False,paper_bgcolor="#d9d6cf",plot_bgcolor="rgba(0,0,0,0)",
                  shapes=shapes,annotations=anns,boxgap=0.3,showlegend=False,dragmode=False)

fig.write_html("out.html",config=dict(displayModeBar=False,staticPlot=True),
               post_script="document.body.style.margin='0';document.documentElement.style.overflow='hidden';")
